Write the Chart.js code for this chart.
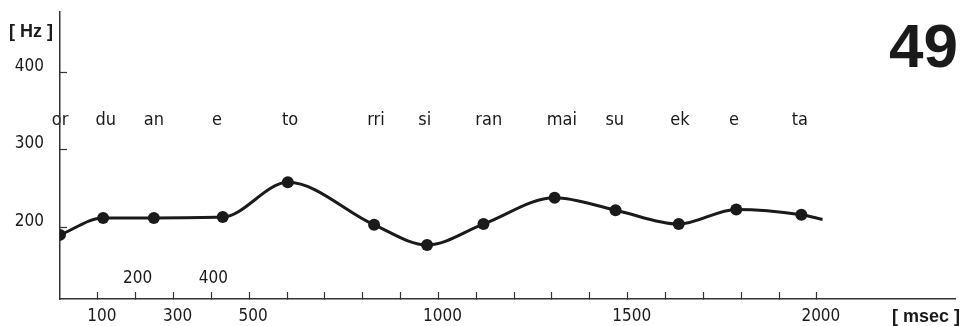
<!DOCTYPE html>
<html>
<head>
<meta charset="utf-8">
<script src="https://cdn.jsdelivr.net/npm/chart.js@4"></script>
<style>
  html, body { margin: 0; padding: 0; background: #fff; }
  #wrap { width: 963px; height: 326px; }
</style>
</head>
<body>
<div id="wrap"><canvas id="chart" width="963" height="326"></canvas></div>
<script>
// pitch contour samples (msec / Hz), last one is just the end of the curve
const times = [0, 114, 248, 430, 602, 830, 970, 1119, 1307, 1468, 1635, 1787, 1959, 2015];
const pitch = [190, 212, 212, 213, 258, 203, 177, 204, 238, 222, 204, 223, 216, 210];

// syllables written above the contour
const syllables = ["or", "du", "an", "e", "to", "rri", "si", "ran", "mai", "su", "ek", "e", "ta"];
const syllableTimes = [0, 121, 248, 415, 608, 835, 964, 1133, 1326, 1466, 1638, 1781, 1955];

// tick labels
const msecLower = [100, 300, 500, 1000, 1500, 2000];
const msecUpper = [200, 400];
const hzTicks = [200, 300, 400];
const pageNumber = "49";

const NARROW = "'Liberation Sans Narrow', 'Arial Narrow', 'DejaVu Sans Condensed', sans-serif";
const BOLD = "'Liberation Sans', Arial, sans-serif";
const INK = "#1a1a1a";

Chart.defaults.font.family = NARROW;
Chart.defaults.color = INK;

const cornerText = {
	id: "cornerText",
	afterDraw(chart) {
		const ctx = chart.ctx;
		const area = chart.chartArea;
		ctx.save();
		ctx.fillStyle = INK;
		ctx.textAlign = "right";
		ctx.textBaseline = "middle";
		ctx.font = "bold 18px " + BOLD;
		ctx.fillText("[ Hz ]", area.left - 7, 32);
		ctx.fillText("[ msec ]", chart.width - 3, area.bottom + 18);
		ctx.font = "bold 62px " + BOLD;
		ctx.textBaseline = "alphabetic";
		ctx.fillText(pageNumber, chart.width - 5, 67);
		ctx.restore();
	}
};

// keep tick paddings from eating into the plot area
function noEdgePadding(s) {
	s.paddingTop = 0;
	s.paddingBottom = 0;
	s.paddingLeft = 0;
	s.paddingRight = 0;
}

const lastIndex = times.length - 1;

new Chart(document.getElementById("chart"), {
	type: "line",
	data: {
		datasets: [{
			data: times.map((t, i) => ({ x: t, y: pitch[i] })),
			borderColor: INK,
			backgroundColor: INK,
			borderWidth: 3,
			cubicInterpolationMode: "monotone",
			pointRadius: (ctx) => ctx.dataIndex === lastIndex ? 0 : 6,
			pointBorderWidth: 0,
			fill: false
		}]
	},
	options: {
		responsive: false,
		animation: false,
		devicePixelRatio: 1,
		layout: { padding: { top: 12, right: 8, left: 0, bottom: 0 } },
		plugins: { legend: { display: false }, tooltip: { enabled: false } },
		scales: {
			x: {
				type: "linear",
				position: "bottom",
				min: 0,
				max: 2365,
				afterFit: (s) => { s.height = 27; noEdgePadding(s); },
				grid: {
					drawOnChartArea: false,
					tickLength: -7,
					tickWidth: 1.2,
					tickColor: (ctx) => ctx.tick && ctx.tick.value > 0 && ctx.tick.value <= 2000 ? "#333" : "rgba(0,0,0,0)"
				},
				border: { color: "#333", width: 1.5 },
				ticks: {
					stepSize: 100,
					autoSkip: false,
					includeBounds: false,
					maxRotation: 0,
					padding: 14.5,
					labelOffset: 4,
					font: { size: 17 },
					callback: (v) => msecLower.includes(v) ? String(v) : ""
				}
			},
			xUpper: {
				axis: "x",
				type: "linear",
				position: { y: 157.6 },
				min: 0,
				max: 2365,
				afterFit: noEdgePadding,
				grid: { display: false },
				border: { display: false },
				ticks: {
					stepSize: 100,
					autoSkip: false,
					includeBounds: false,
					maxRotation: 0,
					padding: 0,
					labelOffset: 2,
					font: { size: 17 },
					callback: (v) => msecUpper.includes(v) ? String(v) : ""
				}
			},
			syl: {
				axis: "x",
				type: "linear",
				position: { y: 362 },
				min: 0,
				max: 2365,
				z: 1,
				afterFit: noEdgePadding,
				grid: { display: false },
				border: { display: false },
				afterBuildTicks: (s) => { s.ticks = syllableTimes.map((v) => ({ value: v })); },
				ticks: {
					autoSkip: false,
					maxRotation: 0,
					padding: 0,
					font: { size: 18 },
					showLabelBackdrop: true,
					backdropColor: "#fff",
					backdropPadding: { top: 4, bottom: 4, left: 2, right: 2 },
					callback: (v, i) => syllables[i]
				}
			},
			y: {
				type: "linear",
				position: "left",
				min: 107,
				max: 478.5,
				afterFit: (s) => { s.width = 60; noEdgePadding(s); },
				afterBuildTicks: (s) => { s.ticks = hzTicks.map((v) => ({ value: v })); },
				grid: { drawOnChartArea: false, tickLength: -7, tickWidth: 1.2, tickColor: "#333" },
				border: { color: "#333", width: 1.5 },
				ticks: {
					padding: 23,
					labelOffset: -6,
					font: { size: 17 }
				}
			}
		}
	},
	plugins: [cornerText]
});
</script>
</body>
</html>
